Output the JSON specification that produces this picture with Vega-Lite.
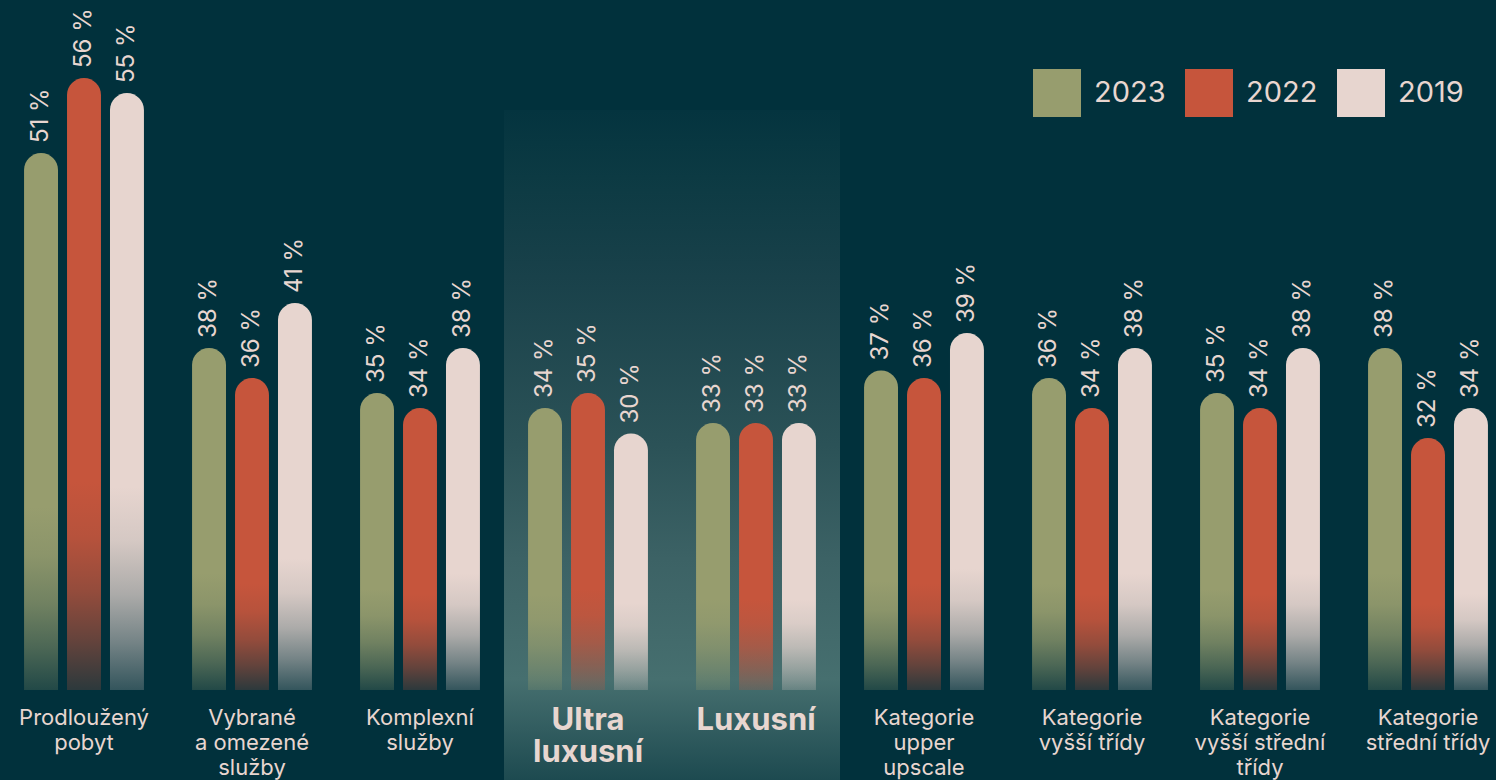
{
  "$schema": "https://vega.github.io/schema/vega-lite/v6.json",
  "width": 1512,
  "height": 690,
  "padding": {"left": 0, "top": 0, "right": 0, "bottom": 90},
  "autosize": {"type": "none"},
  "background": "#01313c",
  "config": {"view": {"stroke": null}, "font": "Inter"},
  "datasets": {
    "bars": [
      {"cat": "Prodloužený\npobyt", "year": "2023", "value": 51, "label": "51 %"},
      {"cat": "Prodloužený\npobyt", "year": "2022", "value": 56, "label": "56 %"},
      {"cat": "Prodloužený\npobyt", "year": "2019", "value": 55, "label": "55 %"},
      {"cat": "Vybrané\na omezené\nslužby", "year": "2023", "value": 38, "label": "38 %"},
      {"cat": "Vybrané\na omezené\nslužby", "year": "2022", "value": 36, "label": "36 %"},
      {"cat": "Vybrané\na omezené\nslužby", "year": "2019", "value": 41, "label": "41 %"},
      {"cat": "Komplexní\nslužby", "year": "2023", "value": 35, "label": "35 %"},
      {"cat": "Komplexní\nslužby", "year": "2022", "value": 34, "label": "34 %"},
      {"cat": "Komplexní\nslužby", "year": "2019", "value": 38, "label": "38 %"},
      {"cat": "Ultra\nluxusní", "year": "2023", "value": 34, "label": "34 %"},
      {"cat": "Ultra\nluxusní", "year": "2022", "value": 35, "label": "35 %"},
      {"cat": "Ultra\nluxusní", "year": "2019", "value": 32.3, "label": "30 %"},
      {"cat": "Luxusní", "year": "2023", "value": 33, "label": "33 %"},
      {"cat": "Luxusní", "year": "2022", "value": 33, "label": "33 %"},
      {"cat": "Luxusní", "year": "2019", "value": 33, "label": "33 %"},
      {"cat": "Kategorie\nupper\nupscale", "year": "2023", "value": 36.5, "label": "37 %"},
      {"cat": "Kategorie\nupper\nupscale", "year": "2022", "value": 36, "label": "36 %"},
      {"cat": "Kategorie\nupper\nupscale", "year": "2019", "value": 39, "label": "39 %"},
      {"cat": "Kategorie\nvyšší třídy", "year": "2023", "value": 36, "label": "36 %"},
      {"cat": "Kategorie\nvyšší třídy", "year": "2022", "value": 34, "label": "34 %"},
      {"cat": "Kategorie\nvyšší třídy", "year": "2019", "value": 38, "label": "38 %"},
      {"cat": "Kategorie\nvyšší střední\ntřídy", "year": "2023", "value": 35, "label": "35 %"},
      {"cat": "Kategorie\nvyšší střední\ntřídy", "year": "2022", "value": 34, "label": "34 %"},
      {"cat": "Kategorie\nvyšší střední\ntřídy", "year": "2019", "value": 38, "label": "38 %"},
      {"cat": "Kategorie\nstřední třídy", "year": "2023", "value": 38, "label": "38 %"},
      {"cat": "Kategorie\nstřední třídy", "year": "2022", "value": 32, "label": "32 %"},
      {"cat": "Kategorie\nstřední třídy", "year": "2019", "value": 34, "label": "34 %"}
    ],
    "cats": [
      {"cat": "Prodloužený\npobyt", "highlight": false},
      {"cat": "Vybrané\na omezené\nslužby", "highlight": false},
      {"cat": "Komplexní\nslužby", "highlight": false},
      {"cat": "Ultra\nluxusní", "highlight": true},
      {"cat": "Luxusní", "highlight": true},
      {"cat": "Kategorie\nupper\nupscale", "highlight": false},
      {"cat": "Kategorie\nvyšší třídy", "highlight": false},
      {"cat": "Kategorie\nvyšší střední\ntřídy", "highlight": false},
      {"cat": "Kategorie\nstřední třídy", "highlight": false}
    ]
  },
  "encoding": {
    "x": {
      "field": "cat", "type": "nominal", "sort": null, "axis": null,
      "scale": {"paddingInner": 0, "paddingOuter": 0,
        "domain": ["Prodloužený\npobyt", "Vybrané\na omezené\nslužby", "Komplexní\nslužby", "Ultra\nluxusní", "Luxusní", "Kategorie\nupper\nupscale", "Kategorie\nvyšší třídy", "Kategorie\nvyšší střední\ntřídy", "Kategorie\nstřední třídy"]}
    }
  },
  "layer": [
    {
      "data": {"name": "cats"},
      "transform": [{"filter": "datum.highlight"}],
      "mark": {
        "type": "rect",
        "fill": {
          "gradient": "linear", "x1": 0, "y1": 0, "x2": 0, "y2": 1,
          "stops": [
            {"offset": 0, "color": "#04343f"},
            {"offset": 0.1, "color": "#0c3a43"},
            {"offset": 0.25, "color": "#19414a"},
            {"offset": 0.5, "color": "#2b5257"},
            {"offset": 0.67, "color": "#3c6265"},
            {"offset": 0.85, "color": "#466f6f"},
            {"offset": 1, "color": "#1d4a50"}
          ]
        }
      },
      "encoding": {
        "y": {"datum": 53.87, "type": "quantitative", "axis": null, "scale": {"domain": [15.2, 61.2], "zero": false, "nice": false}},
        "y2": {"datum": 9.2}
      }
    },
    {
      "data": {"name": "bars"},
      "transform": [{"filter": "datum.year === '2023'"}],
      "mark": {
        "type": "bar", "cornerRadiusTopLeft": 17, "cornerRadiusTopRight": 17,
        "fill": {
          "gradient": "linear", "x1": 0, "y1": 0, "x2": 0, "y2": 1,
          "stops": [
            {"offset": 0, "color": "rgba(151,157,110,1)"},
            {"offset": 0.66, "color": "rgba(151,157,110,1)"},
            {"offset": 0.75, "color": "rgba(151,157,110,0.92)"},
            {"offset": 0.84, "color": "rgba(151,157,110,0.74)"},
            {"offset": 0.92, "color": "rgba(151,157,110,0.5)"},
            {"offset": 1, "color": "rgba(151,157,110,0.22)"}
          ]
        }
      },
      "encoding": {
        "xOffset": {"field": "year", "type": "nominal", "scale": {"domain": ["2023", "2022", "2019"], "paddingInner": 0.21, "paddingOuter": 0.56}},
        "y": {"field": "value", "type": "quantitative", "axis": null, "scale": {"domain": [15.2, 61.2], "zero": false, "nice": false}},
        "y2": {"datum": 15.2}
      }
    },
    {
      "data": {"name": "bars"},
      "transform": [{"filter": "datum.year === '2022'"}],
      "mark": {
        "type": "bar", "cornerRadiusTopLeft": 17, "cornerRadiusTopRight": 17,
        "fill": {
          "gradient": "linear", "x1": 0, "y1": 0, "x2": 0, "y2": 1,
          "stops": [
            {"offset": 0, "color": "rgba(198,85,60,1)"},
            {"offset": 0.66, "color": "rgba(198,85,60,1)"},
            {"offset": 0.75, "color": "rgba(198,85,60,0.92)"},
            {"offset": 0.84, "color": "rgba(198,85,60,0.74)"},
            {"offset": 0.92, "color": "rgba(198,85,60,0.5)"},
            {"offset": 1, "color": "rgba(198,85,60,0.22)"}
          ]
        }
      },
      "encoding": {
        "xOffset": {"field": "year", "type": "nominal"},
        "y": {"field": "value", "type": "quantitative"},
        "y2": {"datum": 15.2}
      }
    },
    {
      "data": {"name": "bars"},
      "transform": [{"filter": "datum.year === '2019'"}],
      "mark": {
        "type": "bar", "cornerRadiusTopLeft": 17, "cornerRadiusTopRight": 17,
        "fill": {
          "gradient": "linear", "x1": 0, "y1": 0, "x2": 0, "y2": 1,
          "stops": [
            {"offset": 0, "color": "rgba(231,213,207,1)"},
            {"offset": 0.66, "color": "rgba(231,213,207,1)"},
            {"offset": 0.75, "color": "rgba(231,213,207,0.92)"},
            {"offset": 0.84, "color": "rgba(231,213,207,0.74)"},
            {"offset": 0.92, "color": "rgba(231,213,207,0.5)"},
            {"offset": 1, "color": "rgba(231,213,207,0.22)"}
          ]
        }
      },
      "encoding": {
        "xOffset": {"field": "year", "type": "nominal"},
        "y": {"field": "value", "type": "quantitative"},
        "y2": {"datum": 15.2}
      }
    },
    {
      "data": {"name": "bars"},
      "mark": {"type": "text", "angle": 270, "align": "left", "baseline": "middle", "dx": 10, "fontSize": 24, "color": "#e8d6d0"},
      "encoding": {
        "xOffset": {"field": "year", "type": "nominal"},
        "y": {"field": "value", "type": "quantitative"},
        "text": {"field": "label"}
      }
    },
    {
      "data": {"name": "cats"},
      "transform": [{"filter": "!datum.highlight"}],
      "mark": {"type": "text", "align": "center", "baseline": "top", "lineBreak": "\n", "lineHeight": 25, "fontSize": 22, "color": "#e8d6d0"},
      "encoding": {
        "y": {"datum": 14.0, "type": "quantitative"},
        "text": {"field": "cat"}
      }
    },
    {
      "data": {"name": "cats"},
      "transform": [{"filter": "datum.highlight"}],
      "mark": {"type": "text", "align": "center", "baseline": "top", "lineBreak": "\n", "lineHeight": 32, "fontSize": 31, "fontWeight": "bold", "color": "#e8d6d0"},
      "encoding": {
        "y": {"datum": 14.15, "type": "quantitative"},
        "text": {"field": "cat"}
      }
    },
    {
      "data": {"name": "bars"},
      "mark": {"type": "square", "opacity": 0},
      "encoding": {
        "y": {"field": "value", "type": "quantitative"},
        "color": {
          "field": "year", "type": "nominal",
          "scale": {"domain": ["2023", "2022", "2019"], "range": ["#979d6e", "#c6553c", "#e7d5cf"]},
          "legend": {
            "orient": "none", "legendX": 1033, "legendY": 69, "direction": "horizontal",
            "title": null, "symbolType": "square", "symbolSize": 2304, "symbolOpacity": 1,
            "symbolStrokeWidth": 0, "labelFontSize": 29, "labelColor": "#e8d6d0", "labelFont": "Inter",
            "labelOffset": 13, "columnPadding": 19, "padding": 0, "labelLimit": 200
          }
        }
      }
    }
  ]
}
